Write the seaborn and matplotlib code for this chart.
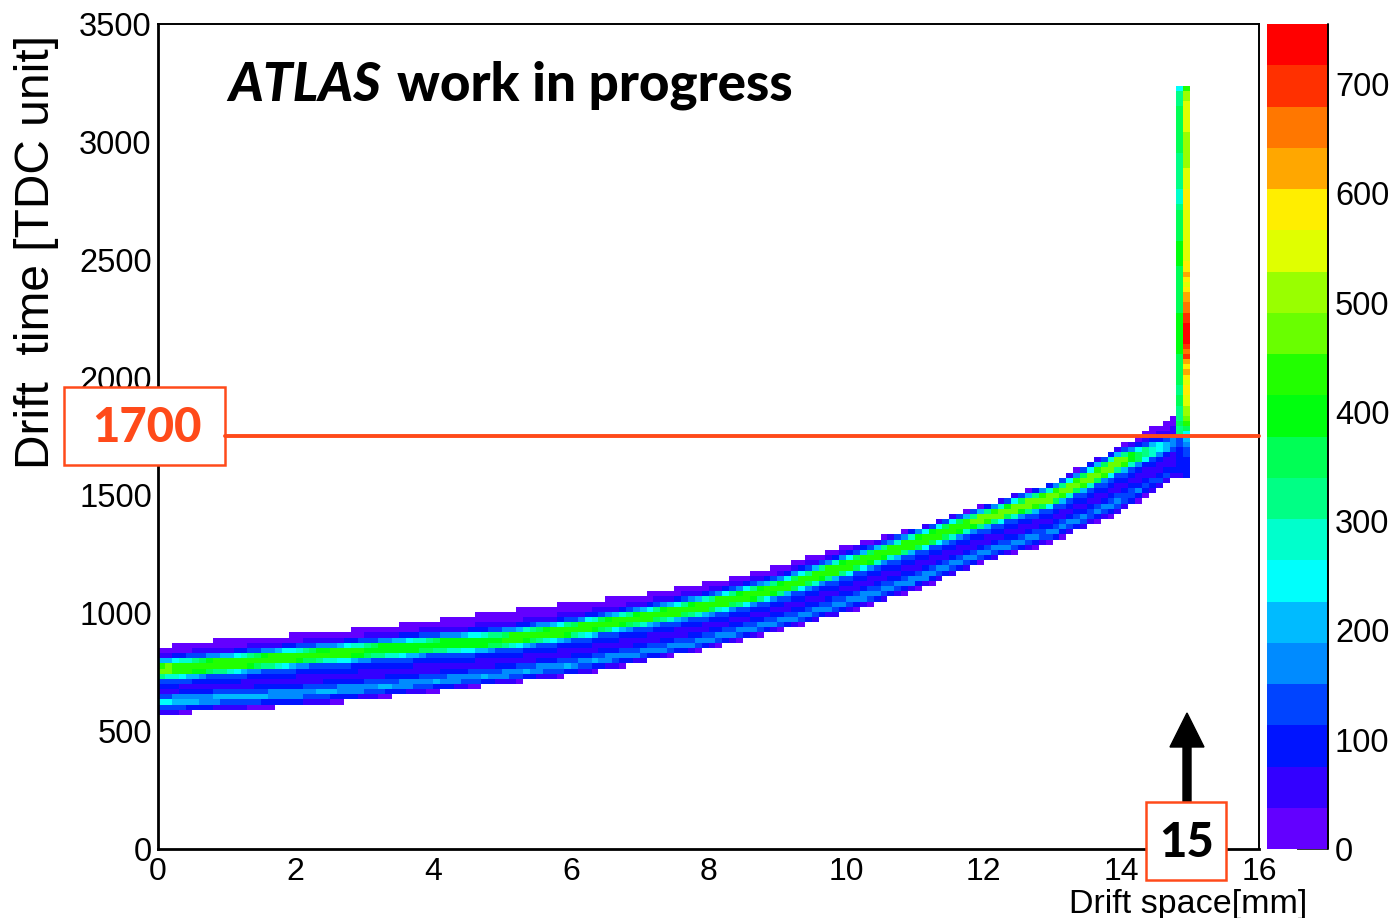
import colorsys
import numpy as np
import pandas as pd
import matplotlib
matplotlib.use("Agg")
import matplotlib.pyplot as plt
import matplotlib.transforms as mtrans
from matplotlib.colors import ListedColormap
from matplotlib.patches import Rectangle, FancyArrow
from matplotlib.lines import Line2D
from matplotlib.ticker import MultipleLocator
import seaborn as sns

# ---------------- values ----------------
# band description at knots of drift space [mm]
knot_x        = [0, 1, 2, 3, 4, 5, 6, 7, 8, 9, 10, 11, 12, 13, 14, 14.8]
band_top      = [855, 895, 910, 935, 970, 1010, 1045, 1075, 1130, 1200, 1285, 1360, 1460, 1555, 1710, 1840]
main_ridge_t  = [760, 785, 815, 840, 865, 887, 929, 980, 1035, 1105, 1200, 1300, 1402, 1495, 1643, 1728]
main_ridge_n  = [455, 445, 420, 415, 410, 415, 420, 420, 425, 425, 430, 445, 455, 465, 475, 150]
lower_ridge_t = [622, 640, 655, 680, 710, 740, 780, 830, 885, 960, 1045, 1140, 1255, 1345, 1480, 1610]
lower_ridge_n = [235, 215, 200, 200, 195, 195, 195, 190, 190, 190, 190, 185, 185, 180, 175, 110]
gap_n         = [45, 45, 42, 42, 42, 42, 42, 42, 45, 45, 45, 45, 45, 45, 45, 45]
band_bottom   = [568, 592, 605, 632, 665, 700, 735, 790, 850, 925, 1000, 1095, 1215, 1300, 1430, 1574]
edge_n = 15

# the two saturated columns at 14.8-14.9 and 14.9-15.0 mm
column_x     = [14.85, 14.95]
column_time  = [1575, 1650, 1700, 1740, 1760, 1800, 1850, 1900, 1950, 1980, 2020, 2050, 2080, 2120,
                2150, 2200, 2250, 2300, 2350, 2400, 2450, 2500, 2600, 2700, 2750, 2850, 2950, 3050,
                3150, 3200, 3240]
column_left  = [70, 90, 110, 150, 320, 345, 330, 350, 320, 340, 360, 350, 370, 385,
                395, 400, 390, 365, 345, 345, 370, 390, 375, 345, 290, 320, 340, 350,
                340, 330, 200]
column_right = [90, 110, 150, 190, 260, 420, 500, 540, 600, 540, 620, 560, 690, 650,
                720, 740, 700, 650, 610, 560, 620, 540, 550, 560, 590, 540, 500, 530,
                540, 510, 400]

x_ticks = [0, 2, 4, 6, 8, 10, 12, 14, 16]
y_ticks = [0, 500, 1000, 1500, 2000, 2500, 3000, 3500]
z_ticks = [0, 100, 200, 300, 400, 500, 600, 700]
z_max = 755
cut_time = 1750
cut_label = "1700"
space_label = "15"

# ---------------- build the 2D histogram table ----------------
x_edges = np.linspace(0, 16, 161)
y_edges = np.linspace(0, 3500, 161)
xc = 0.5 * (x_edges[:-1] + x_edges[1:])
yc = 0.5 * (y_edges[:-1] + y_edges[1:])

xs, ys, ws = [], [], []
for x in xc:
    if x < 14.8:
        bot = np.interp(x, knot_x, band_bottom)
        top = np.interp(x, knot_x, band_top)
        lo = np.interp(x, knot_x, lower_ridge_t)
        alo = np.interp(x, knot_x, lower_ridge_n)
        gp = np.interp(x, knot_x, gap_n)
        mn = np.interp(x, knot_x, main_ridge_t)
        amn = np.interp(x, knot_x, main_ridge_n)
        gap_t = 0.5 * (lo + mn - 45)
        tp = [bot, lo, gap_t, mn - 45, mn - 15, mn + 15, mn + 35]
        vp = [edge_n, alo, gp, 0.33 * amn, amn, amn, 0.45 * amn]
        if mn + 60 < top - 5:
            tp.append(mn + 60)
            vp.append(45)
        tp.append(top)
        vp.append(edge_n)
        for t in yc:
            if bot <= t <= top:
                xs.append(x); ys.append(t); ws.append(float(np.interp(t, tp, vp)))
    else:
        for cx, cv in zip(column_x, [column_left, column_right]):
            if abs(x - cx) < 1e-6:
                for t in yc:
                    if column_time[0] <= t <= column_time[-1]:
                        xs.append(x); ys.append(t); ws.append(float(np.interp(t, column_time, cv)))

df = pd.DataFrame({"drift_space": xs, "drift_time": ys, "entries": ws})

# ROOT "pretty" palette, 20 contour levels
pal = []
for k in range(20):
    idx = int((k + 0.99) * 50 / 20)
    hue = 280 - (idx + 1) * 280 / 50
    pal.append(colorsys.hls_to_rgb(hue / 360.0, 0.5, 1.0))
cmap = ListedColormap(pal)

# ---------------- figure ----------------
sns.set_style("white")
plt.rcParams["font.family"] = ["Liberation Sans", "DejaVu Sans"]
for key in ("text.color", "axes.labelcolor", "xtick.color", "ytick.color", "axes.edgecolor"):
    plt.rcParams[key] = "black"

W, H = 1395, 918
fig = plt.figure(figsize=(W / 100, H / 100), dpi=100)
ax = fig.add_axes([158 / W, 1 - 849 / H, (1259 - 158) / W, (849 - 24) / H])
cax = fig.add_axes([1267 / W, 1 - 849 / H, (1328 - 1267) / W, (849 - 24) / H])
px = mtrans.Affine2D().scale(1 / W, -1 / H).translate(0, 1) + fig.transFigure

sns.histplot(data=df, x="drift_space", y="drift_time", weights="entries",
             bins=[x_edges, y_edges], cmap=cmap, vmin=0, vmax=z_max, ax=ax, cbar=False)
mesh = ax.collections[0]
mesh.set_clim(0, z_max)

ax.set_xlim(0, 16)
ax.set_ylim(0, 3500)
ax.set_xticks(x_ticks)
ax.set_yticks(y_ticks)
ax.xaxis.set_minor_locator(MultipleLocator(0.5))
ax.yaxis.set_minor_locator(MultipleLocator(100))
ax.tick_params(axis="x", which="major", direction="in", length=18, width=1.1,
               labelsize=23, pad=5.5, top=False, color="k", labelcolor="k")
ax.tick_params(axis="x", which="minor", direction="in", length=8.6, width=1.1, top=False, color="k")
ax.tick_params(axis="y", which="major", direction="in", length=23.5, width=1.1,
               labelsize=23.5, pad=4.5, right=False, color="k", labelcolor="k")
ax.tick_params(axis="y", which="minor", direction="in", length=11.5, width=1.1, right=False, color="k")
ax.set_xlabel("")
ax.set_ylabel("")
for name, sp in ax.spines.items():
    sp.set_visible(True)
    sp.set_color("k")
    sp.set_linewidth(2.0 if name in ("left", "bottom") else 1.4)
ax.grid(False)

# colour bar
cbar = fig.colorbar(mesh, cax=cax, ticks=z_ticks)
cbar.outline.set_visible(False)
cax.tick_params(direction="in", length=22, width=1.1, labelsize=23.5, pad=5, color="k", labelcolor="k")
cax.add_line(Line2D([1, 1], [0, 1], transform=cax.transAxes, color="k", lw=1.4, clip_on=False))

# axis titles
fig.text(37, 35, "Drift  time [TDC unit]", rotation=90, ha="center", va="top",
         fontsize=34.5, color="k", transform=px)
fig.text(1307, 913, "Drift space[mm]", ha="right", va="baseline", fontsize=24.5, color="k",
         transform=px)

# ATLAS label (fitted to span x = 228 .. 793 px)
label_font = ["Lato", "DejaVu Sans"]
fs = 32
t1 = fig.text(228, 101, "ATLAS", fontsize=fs, fontweight="black", fontstyle="italic",
              family=label_font, ha="left", va="baseline", color="k", transform=px)
t2 = fig.text(0, 101, "work in progress", fontsize=fs, fontweight="black",
              family=label_font, ha="left", va="baseline", color="k", transform=px)
fig.canvas.draw()
r = fig.canvas.get_renderer()
w1 = t1.get_window_extent(r).width
w2 = t2.get_window_extent(r).width
scale = (793 - 228 - 16) / (w1 + w2)
fs2 = fs * scale
t1.set_fontsize(fs2)
t2.set_fontsize(fs2)
fig.canvas.draw()
bb = t1.get_window_extent(r)
t2.set_x(bb.x1 + 16)

# cut line and its label
orange = "#FF4A1A"
blend = mtrans.blended_transform_factory(px, ax.transData)
fig.add_artist(Line2D([225, 1259], [cut_time, cut_time], transform=blend, color=orange, lw=2.8))
fig.add_artist(Rectangle((64, 387), 161, 78, transform=px, facecolor="white",
                         edgecolor=orange, lw=1.8))
fig.text(147, 428, cut_label, ha="center", va="center", fontsize=34, fontweight="black",
         color=orange, family=label_font, transform=px)

# "15" box and arrow
fig.add_artist(FancyArrow(1187, 802, 0, -89, width=8, head_width=34, head_length=34,
                          length_includes_head=True, transform=px, color="k"))
fig.add_artist(Rectangle((1146, 802), 80, 78, transform=px, facecolor="white",
                         edgecolor=orange, lw=1.8))
fig.text(1187, 843, space_label, ha="center", va="center", fontsize=34, fontweight="black",
         color="k", family=label_font, transform=px)

fig.savefig("out.png", dpi=100)
